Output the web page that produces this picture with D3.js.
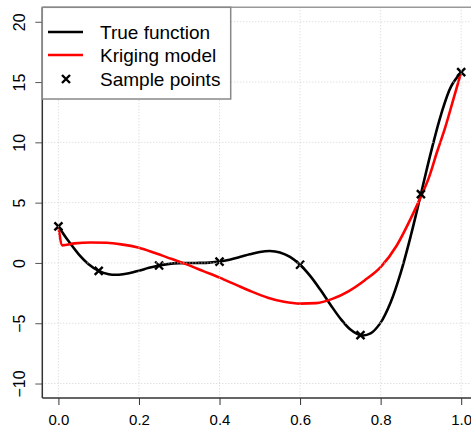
<!DOCTYPE html>
<html><head><meta charset="utf-8">
<script src="https://cdn.jsdelivr.net/npm/d3@7"></script>
<style>body{margin:0;background:#fff}svg{display:block}text{font-family:"Liberation Sans",Arial,sans-serif}</style>
</head><body><svg id="c" width="471" height="427"></svg>
<script>
// True function (Forrester) read at x steps of 0.025
const trueX = [0,0.025,0.05,0.075,0.1,0.125,0.15,0.175,0.2,0.225,0.25,0.275,0.3,0.325,0.35,0.375,0.4,0.425,0.45,0.475,0.5,0.525,0.55,0.575,0.6,0.625,0.65,0.675,0.7,0.725,0.75,0.775,0.8,0.825,0.85,0.875,0.9,0.925,0.95,0.975,1.0];
const trueY = [3.027,1.813,0.739,-0.100,-0.657,-0.935,-0.978,-0.854,-0.640,-0.407,-0.210,-0.079,-0.016,0.000,0.002,0.030,0.115,0.270,0.483,0.717,0.909,0.986,0.871,0.503,-0.149,-1.074,-2.209,-3.439,-4.606,-5.522,-5.993,-5.845,-4.949,-3.254,-0.799,2.272,5.712,9.187,12.303,14.647,15.830];
// Kriging model
const krigX = [0,0.01,0.04,0.08,0.12,0.16,0.2,0.24,0.28,0.32,0.36,0.4,0.44,0.48,0.52,0.56,0.6,0.64,0.68,0.72,0.76,0.8,0.84,0.88,0.9,0.92,0.94,0.96,0.98,1.0];
const krigY = [3.03,1.46,1.62,1.70,1.68,1.52,1.26,0.82,0.34,-0.14,-0.68,-1.22,-1.80,-2.38,-2.88,-3.22,-3.37,-3.33,-2.98,-2.35,-1.45,-0.35,1.45,4.05,5.5,7.1,9.2,11.2,13.5,15.83];
// Sample points
const sampleX = [0,0.1,0.25,0.4,0.6,0.75,0.9,1.0];
const sampleY = [3.027,-0.657,-0.210,0.115,-0.149,-5.993,5.712,15.830];
const xTicks = [0,0.2,0.4,0.6,0.8,1.0];
const yTicks = [-10,-5,0,5,10,15,20];
const legendLabels = ["True function","Kriging model","Sample points"];

const svg = d3.select("#c");
const x = d3.scaleLinear().domain([-0.04,1.04]).range([42.3,477.3]);
const y = d3.scaleLinear().domain([-11.2,21.2]).range([398,7.3]);
const L=42.3, R=477.3, T=7.3, B=398;

svg.append("clipPath").attr("id","clip").append("rect").attr("x",L).attr("y",T).attr("width",R-L).attr("height",B-T);
const plot = svg.append("g").attr("clip-path","url(#clip)");

const line = d3.line().x(d=>x(d[0])).y(d=>y(d[1]));
plot.append("path").datum(trueX.map((v,i)=>[v,trueY[i]]))
  .attr("d", line.curve(d3.curveCatmullRom.alpha(0.5)))
  .attr("fill","none").attr("stroke","#000").attr("stroke-width",2.6);
plot.append("path").datum(krigX.map((v,i)=>[v,krigY[i]]))
  .attr("d", d3.line().x(d=>x(d[0])).y(d=>y(d[1])).curve(d3.curveMonotoneX))
  .attr("fill","none").attr("stroke","#ff0000").attr("stroke-width",2.6);

const cs=4;
sampleX.forEach((v,i)=>{
  const cx=x(v), cy=y(sampleY[i]);
  plot.append("path").attr("d",`M${cx-cs},${cy-cs}L${cx+cs},${cy+cs}M${cx-cs},${cy+cs}L${cx+cs},${cy-cs}`)
    .attr("stroke","#000").attr("stroke-width",2.4);
});

// grid (drawn on top, dotted light gray)
const grid = svg.append("g");
xTicks.forEach(t=>grid.append("line").attr("x1",x(t)).attr("x2",x(t)).attr("y1",T).attr("y2",B)
  .attr("stroke","#d3d3d3").attr("stroke-dasharray","1,2"));
yTicks.forEach(t=>grid.append("line").attr("x1",L).attr("x2",R).attr("y1",y(t)).attr("y2",y(t))
  .attr("stroke","#d3d3d3").attr("stroke-dasharray","1,2"));

// box top
svg.append("line").attr("x1",L).attr("x2",471).attr("y1",T).attr("y2",T).attr("stroke","#999").attr("stroke-width",1.5);

// axes
const xAxis = d3.axisBottom(x).tickValues(xTicks).tickFormat(d3.format(".1f")).tickSize(7).tickPadding(9);
const gx = svg.append("g").attr("transform",`translate(0,${B})`).call(xAxis);
gx.select(".domain").remove();
gx.selectAll(".tick line").attr("stroke","#333");
gx.selectAll("text").attr("font-size",15).attr("fill","#000");
svg.append("line").attr("x1",L).attr("x2",471).attr("y1",B).attr("y2",B).attr("stroke","#333").attr("stroke-width",1.5);

const yAxis = d3.axisLeft(y).tickValues(yTicks).tickSize(7).tickPadding(0);
const gy = svg.append("g").attr("transform",`translate(${L},0)`).call(yAxis);
gy.select(".domain").remove();
gy.selectAll(".tick line").attr("stroke","#555");
gy.selectAll("text").attr("font-size",16).attr("fill","#000")
  .attr("text-anchor","middle").attr("x",0)
  .attr("transform","translate(-22.5,0) rotate(-90)").attr("dy","0.35em");
svg.append("line").attr("x1",L).attr("x2",L).attr("y1",T).attr("y2",B).attr("stroke","#333").attr("stroke-width",1.5);

// legend
const lg = svg.append("g");
lg.append("rect").attr("x",L).attr("y",T).attr("width",230.7-L).attr("height",99-T)
  .attr("fill","#fff").attr("stroke","#888").attr("stroke-width",1.5);
const ly=[32,55,79];
lg.append("line").attr("x1",48).attr("x2",83).attr("y1",ly[0]).attr("y2",ly[0]).attr("stroke","#000").attr("stroke-width",2.6);
lg.append("line").attr("x1",48).attr("x2",83).attr("y1",ly[1]).attr("y2",ly[1]).attr("stroke","#ff0000").attr("stroke-width",2.6);
lg.append("path").attr("d",`M${66-cs},${ly[2]-cs}L${66+cs},${ly[2]+cs}M${66-cs},${ly[2]+cs}L${66+cs},${ly[2]-cs}`).attr("stroke","#000").attr("stroke-width",2.4);
legendLabels.forEach((t,i)=>lg.append("text").attr("x",100).attr("y",ly[i]).attr("dy","0.35em").attr("font-size",19).attr("fill","#000").text(t));
</script></body></html>
